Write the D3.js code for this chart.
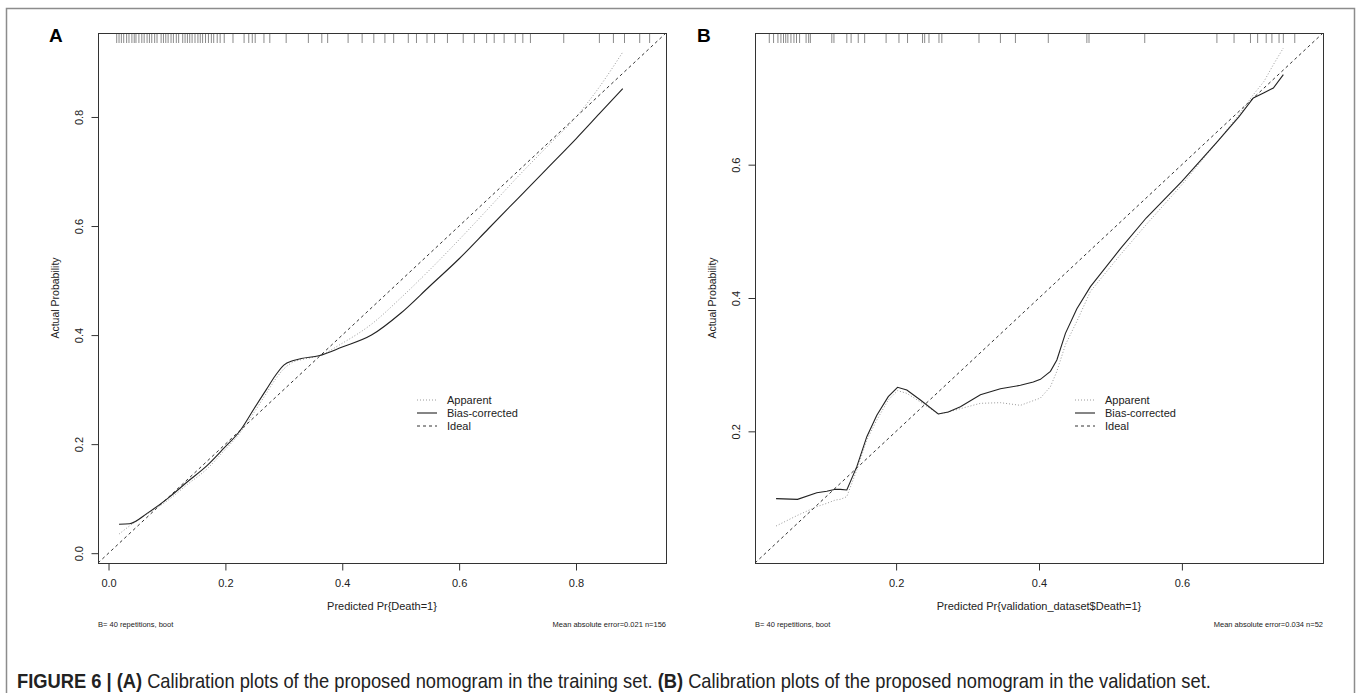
<!DOCTYPE html>
<html>
<head>
<meta charset="utf-8">
<script src="https://cdn.jsdelivr.net/npm/d3@7"></script>
<style>
  body { margin: 0; background: #fff; }
  svg { display: block; font-family: "Liberation Sans", Arial, Helvetica, sans-serif; }
</style>
</head>
<body>
<div id="chart"></div>
<script>
// ---- data ----
// panel A (training set)
let aTicks = [0, 0.2, 0.4, 0.6, 0.8];
let aPred = [0.018, 0.036, 0.066, 0.103, 0.135, 0.169, 0.197, 0.226, 0.249, 0.27, 0.285, 0.30, 0.315, 0.33, 0.36, 0.40, 0.45, 0.50, 0.55, 0.60, 0.65, 0.70, 0.75, 0.80, 0.84, 0.88];
let aApparent = [0.035, 0.05, 0.072, 0.098, 0.126, 0.155, 0.187, 0.222, 0.258, 0.293, 0.318, 0.338, 0.35, 0.355, 0.362, 0.385, 0.42, 0.468, 0.52, 0.575, 0.632, 0.69, 0.745, 0.80, 0.855, 0.919];
let aBias = [0.053, 0.054, 0.073, 0.102, 0.131, 0.161, 0.192, 0.226, 0.265, 0.300, 0.325, 0.345, 0.353, 0.357, 0.362, 0.378, 0.40, 0.44, 0.49, 0.54, 0.595, 0.65, 0.705, 0.76, 0.806, 0.852];
let aRug = [0.014, 0.018, 0.022, 0.026, 0.031, 0.035, 0.04, 0.044, 0.047, 0.052, 0.057, 0.061, 0.066, 0.070, 0.074, 0.079, 0.083, 0.09, 0.094, 0.098, 0.102, 0.107, 0.111, 0.116, 0.12, 0.127, 0.131, 0.135, 0.139, 0.143, 0.148, 0.153, 0.157, 0.161, 0.166, 0.171, 0.176, 0.18, 0.186, 0.191, 0.198, 0.213, 0.232, 0.24, 0.246, 0.251, 0.266, 0.276, 0.304, 0.342, 0.365, 0.375, 0.41, 0.434, 0.454, 0.473, 0.488, 0.513, 0.527, 0.545, 0.558, 0.58, 0.607, 0.626, 0.647, 0.66, 0.677, 0.696, 0.709, 0.722, 0.779, 0.840, 0.864, 0.883, 0.909, 0.926];

// panel B (validation set)
let bTicks = [0.2, 0.4, 0.6];
let bPred = [0.032, 0.062, 0.089, 0.103, 0.115, 0.122, 0.131, 0.145, 0.159, 0.173, 0.189, 0.202, 0.215, 0.234, 0.259, 0.273, 0.290, 0.318, 0.346, 0.374, 0.392, 0.402, 0.416, 0.425, 0.437, 0.453, 0.472, 0.514, 0.55, 0.60, 0.65, 0.68, 0.70, 0.715, 0.728, 0.742];
let bApparent = [0.058, 0.074, 0.087, 0.092, 0.097, 0.098, 0.102, 0.142, 0.187, 0.217, 0.247, 0.261, 0.257, 0.244, 0.226, 0.229, 0.234, 0.242, 0.243, 0.239, 0.246, 0.250, 0.267, 0.290, 0.330, 0.365, 0.41, 0.465, 0.51, 0.57, 0.635, 0.675, 0.705, 0.725, 0.75, 0.775];
let bBias = [0.099, 0.098, 0.108, 0.110, 0.113, 0.113, 0.112, 0.147, 0.192, 0.224, 0.252, 0.266, 0.262, 0.247, 0.226, 0.229, 0.237, 0.255, 0.264, 0.269, 0.274, 0.278, 0.290, 0.307, 0.347, 0.384, 0.417, 0.474, 0.52, 0.575, 0.635, 0.672, 0.70, 0.708, 0.715, 0.735];
let bRug = [0.0225, 0.0285, 0.0346, 0.0388, 0.0424, 0.0455, 0.0485, 0.0528, 0.057, 0.0606, 0.0649, 0.074, 0.0776, 0.08, 0.110, 0.113, 0.131, 0.137, 0.147, 0.156, 0.186, 0.204, 0.216, 0.237, 0.240, 0.246, 0.260, 0.264, 0.316, 0.346, 0.367, 0.413, 0.467, 0.470, 0.548, 0.649, 0.673, 0.696, 0.706, 0.718, 0.726, 0.736, 0.742, 0.758];

let legendNames = ["Apparent", "Bias-corrected", "Ideal"];

let width = 1357, height = 693;

let svg = d3.select("#chart").append("svg")
    .attr("width", width)
    .attr("height", height);

svg.append("rect").attr("width", width).attr("height", height).attr("fill", "#fff");

// outer frame (open at the bottom, the figure is cropped there)
svg.append("path")
    .attr("d", "M6.5," + (height + 2) + "V8.5H1354.5V" + (height + 2))
    .attr("fill", "none")
    .attr("stroke", "#8c8c8c")
    .attr("stroke-width", 1.5);

let styles = {
    apparent: { stroke: "#9a9a9a", dash: "1,2", width: 1 },
    bias: { stroke: "#222", dash: null, width: 1.1 },
    ideal: { stroke: "#333", dash: "3,3", width: 1 }
};

function drawPanel(p) {
    let x = d3.scaleLinear().domain(p.dom).range([p.left, p.right]);
    let y = d3.scaleLinear().domain(p.dom).range([p.bottom, p.top]);
    let g = svg.append("g");

    g.append("clipPath").attr("id", "clip" + p.id)
        .append("rect")
        .attr("x", p.left).attr("y", p.top)
        .attr("width", p.right - p.left).attr("height", p.bottom - p.top);

    let plot = g.append("g").attr("clip-path", "url(#clip" + p.id + ")");

    // ideal line
    plot.append("line")
        .attr("x1", x(p.dom[0])).attr("y1", y(p.dom[0]))
        .attr("x2", x(p.dom[1])).attr("y2", y(p.dom[1]))
        .attr("stroke", styles.ideal.stroke)
        .attr("stroke-dasharray", styles.ideal.dash)
        .attr("stroke-width", styles.ideal.width);

    let line = d3.line()
        .x(function(d) { return x(d[0]); })
        .y(function(d) { return y(d[1]); })
        .curve(p.curve);

    plot.append("path")
        .datum(d3.zip(p.pred, p.apparent))
        .attr("d", line)
        .attr("fill", "none")
        .attr("stroke", styles.apparent.stroke)
        .attr("stroke-dasharray", styles.apparent.dash)
        .attr("stroke-width", styles.apparent.width);

    plot.append("path")
        .datum(d3.zip(p.pred, p.bias))
        .attr("d", line)
        .attr("fill", "none")
        .attr("stroke", styles.bias.stroke)
        .attr("stroke-width", styles.bias.width);

    // rug of predicted values along the top
    g.selectAll(".rug").data(p.rug).enter().append("line")
        .attr("x1", function(d) { return x(d); })
        .attr("x2", function(d) { return x(d); })
        .attr("y1", p.top)
        .attr("y2", p.top + 10)
        .attr("stroke", "#8a8a8a")
        .attr("stroke-width", 1);

    // box
    g.append("rect")
        .attr("x", p.left + 0.5).attr("y", p.top + 0.5)
        .attr("width", p.right - p.left).attr("height", p.bottom - p.top)
        .attr("fill", "none")
        .attr("stroke", "#333")
        .attr("stroke-width", 1);

    // x axis
    let xa = g.append("g")
        .attr("transform", "translate(0," + (p.bottom + 0.5) + ")")
        .call(d3.axisBottom(x).tickValues(p.ticks).tickFormat(d3.format(".1f")).tickSize(7).tickPadding(9));
    xa.select(".domain").remove();
    xa.selectAll("line").attr("stroke", "#333");
    xa.selectAll("text").attr("fill", "#222").style("font-size", "11px").style("font-family", "Liberation Sans, Arial, sans-serif");

    // y axis, labels parallel to the axis as in R
    let ya = g.append("g")
        .attr("transform", "translate(" + (p.left + 0.5) + ",0)")
        .call(d3.axisLeft(y).tickValues(p.ticks).tickFormat(d3.format(".1f")).tickSize(7));
    ya.select(".domain").remove();
    ya.selectAll("line").attr("stroke", "#333");
    ya.selectAll("text")
        .attr("x", null).attr("dy", null)
        .attr("text-anchor", "middle")
        .attr("transform", "translate(-16,0) rotate(-90)")
        .attr("fill", "#222").style("font-size", "11px").style("font-family", "Liberation Sans, Arial, sans-serif");

    // titles
    g.append("text")
        .attr("x", (p.left + p.right) / 2).attr("y", 610)
        .attr("text-anchor", "middle")
        .attr("fill", "#222").style("font-size", "11px")
        .text(p.xTitle);

    g.append("text")
        .attr("transform", "translate(" + (p.left - 39) + "," + ((p.top + p.bottom) / 2) + ") rotate(-90)")
        .attr("text-anchor", "middle")
        .attr("fill", "#222").style("font-size", "10.5px")
        .text("Actual Probability");

    g.append("text")
        .attr("x", p.left).attr("y", 627)
        .attr("fill", "#222").style("font-size", "7.5px")
        .text("B= 40 repetitions, boot");

    g.append("text")
        .attr("x", p.right).attr("y", 627)
        .attr("text-anchor", "end")
        .attr("fill", "#222").style("font-size", "7.5px")
        .text(p.errText);

    // panel letter
    g.append("text")
        .attr("x", p.letterX).attr("y", 42)
        .attr("fill", "#000").style("font-size", "19px").style("font-weight", "bold")
        .text(p.id);

    // legend
    let keys = ["apparent", "bias", "ideal"];
    let lg = g.append("g");
    keys.forEach(function(k, i) {
        let yy = 400 + i * 13;
        lg.append("line")
            .attr("x1", p.legendX).attr("x2", p.legendX + 20)
            .attr("y1", yy).attr("y2", yy)
            .attr("stroke", styles[k].stroke)
            .attr("stroke-dasharray", styles[k].dash)
            .attr("stroke-width", styles[k].width);
        lg.append("text")
            .attr("x", p.legendX + 30).attr("y", yy).attr("dy", "0.35em")
            .attr("fill", "#222").style("font-size", "11px")
            .text(legendNames[i]);
    });
}

drawPanel({
    id: "A", left: 98, right: 666, top: 33, bottom: 563, dom: [-0.018, 0.954],
    ticks: aTicks, pred: aPred, apparent: aApparent, bias: aBias, rug: aRug,
    curve: d3.curveMonotoneX, letterX: 49, legendX: 417,
    xTitle: "Predicted Pr{Death=1}", errText: "Mean absolute error=0.021 n=156"
});

drawPanel({
    id: "B", left: 755, right: 1323, top: 33, bottom: 563, dom: [0.0025, 0.7975],
    ticks: bTicks, pred: bPred, apparent: bApparent, bias: bBias, rug: bRug,
    curve: d3.curveLinear, letterX: 697, legendX: 1075,
    xTitle: "Predicted Pr{validation_dataset$Death=1}", errText: "Mean absolute error=0.034 n=52"
});

// caption, narrow face imitated by a horizontal squeeze
let cap = svg.append("g");
let capText = cap.append("text")
    .attr("x", 0).attr("y", 0)
    .attr("fill", "#222").style("font-size", "20px");
capText.append("tspan").style("font-weight", "bold").text("FIGURE 6 | (A)");
capText.append("tspan").text(" Calibration plots of the proposed nomogram in the training set. ");
capText.append("tspan").style("font-weight", "bold").text("(B)");
capText.append("tspan").text(" Calibration plots of the proposed nomogram in the validation set.");
let capW = capText.node().getComputedTextLength();
let capX0 = 17, capX1 = 1212;
cap.attr("transform", "translate(" + capX0 + ",688) scale(" + ((capX1 - capX0) / capW) + ",1)");
</script>
</body>
</html>
